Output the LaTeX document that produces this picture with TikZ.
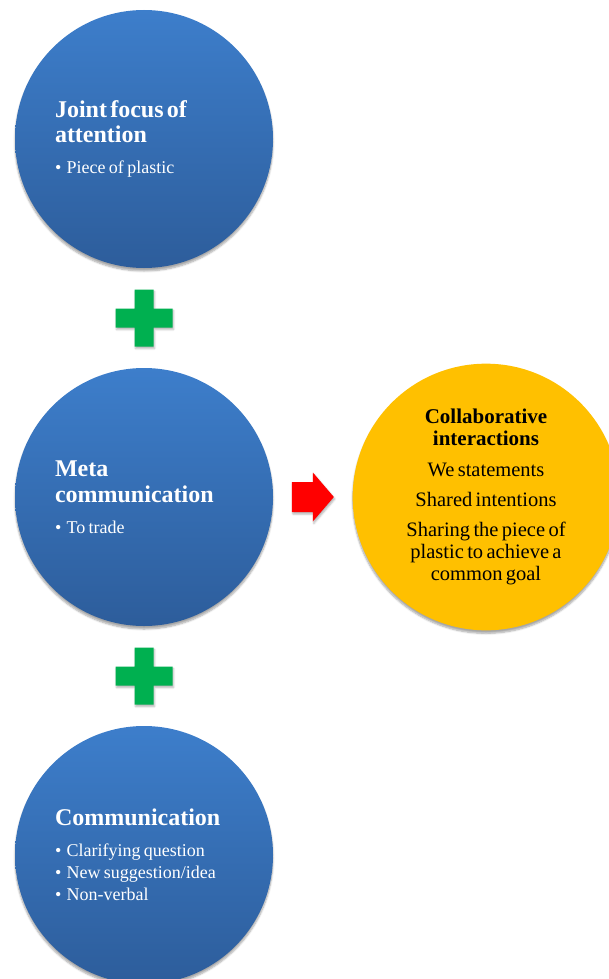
\documentclass[tikz,border=0pt]{standalone}
\usepackage{fontspec}
\setmainfont[WordSpace=1.3]{Liberation Serif}
\usetikzlibrary{calc,shadows.blur}
\definecolor{bluetop}{RGB}{61,126,203}
\definecolor{bluebottom}{RGB}{45,93,155}
\definecolor{goldfill}{RGB}{255,192,0}
\definecolor{plusgreen}{RGB}{0,176,80}
\definecolor{arrowred}{RGB}{255,0,0}
\newcommand{\circtitle}[1]{{\fontsize{24}{25.5}\selectfont\bfseries #1\par}}
\newcommand{\circitem}[1]{{\fontsize{18}{22}\selectfont •\hspace{2pt} #1\par}}
\newcommand{\goldtitle}[1]{{\fontsize{21}{22}\selectfont\bfseries #1\par}}
\newcommand{\goldline}[1]{{\fontsize{20.5}{22}\selectfont #1\par}}
\begin{document}
\begin{tikzpicture}
[x=1pt,y=-1pt,
  bluedecorate/.style={shape=circle,inner sep=0pt,minimum size=258pt,
    top color=bluetop,bottom color=bluebottom,draw=none,text=white,
    text width=178pt,align=left,
    blur shadow={shadow xshift=0pt,shadow yshift=-3pt,shadow blur steps=6,shadow opacity=35}},%
  golddecorate/.style={shape=circle,inner sep=0pt,minimum size=264pt,
    fill=goldfill,draw=none,text=black,text width=200pt,align=center,
    blur shadow={shadow xshift=0pt,shadow yshift=-3pt,shadow blur steps=6,shadow opacity=35}},%
  plusdecorate/.style={fill=plusgreen,
    blur shadow={shadow xshift=1pt,shadow yshift=-2pt,shadow blur steps=4,shadow opacity=30}},%
  arrowdecorate/.style={fill=arrowred,
    blur shadow={shadow xshift=1pt,shadow yshift=-2pt,shadow blur steps=4,shadow opacity=30}}]
\useasboundingbox (0,0) rectangle (608,979);
%% nodes or circles
\node (focus) at (144,139) [bluedecorate] {%
  \circtitle{Joint focus of\\attention}\vspace{9pt}%
  \circitem{Piece of plastic}};
\node (meta) at (144,497) [bluedecorate] {%
  \circtitle{Meta\\communication}\vspace{9pt}%
  \circitem{To trade}};
\node (comm) at (144,855) [bluedecorate] {%
  \circtitle{Communication}\vspace{9pt}%
  \circitem{Clarifying question}%
  \circitem{New suggestion/idea}%
  \circitem{Non-verbal}};
\node (collab) at (486,497) [golddecorate] {%
  \goldtitle{Collaborative\\interactions}\vspace{9pt}%
  \goldline{We statements}\vspace{8pt}%
  \goldline{Shared intentions}\vspace{8pt}%
  \goldline{Sharing the piece of\\plastic to achieve a\\common goal}};
%% plus signs between the circles
\foreach \fromnode/\tonode in {focus/meta,meta/comm}{
  \coordinate (plus-\fromnode) at ($(\fromnode.south)!0.5!(\tonode.north)$);
  \fill[plusdecorate] (plus-\fromnode) ++(-9.5,-28.5) -- ++(19,0) -- ++(0,19)
    -- ++(19,0) -- ++(0,19) -- ++(-19,0) -- ++(0,19) -- ++(-19,0)
    -- ++(0,-19) -- ++(-19,0) -- ++(0,-19) -- ++(19,0) -- cycle;
}
%% arrow to the result
\coordinate (arrowmid) at ($(meta.east)!0.5!(collab.west)$);
\fill[arrowdecorate] (arrowmid) ++(-21,-15) -- ++(21,0) -- ++(0,-9.5)
  -- ++(21,24.5) -- ++(-21,24.5) -- ++(0,-9.5) -- ++(-21,0) -- cycle;
\end{tikzpicture}
\end{document}
